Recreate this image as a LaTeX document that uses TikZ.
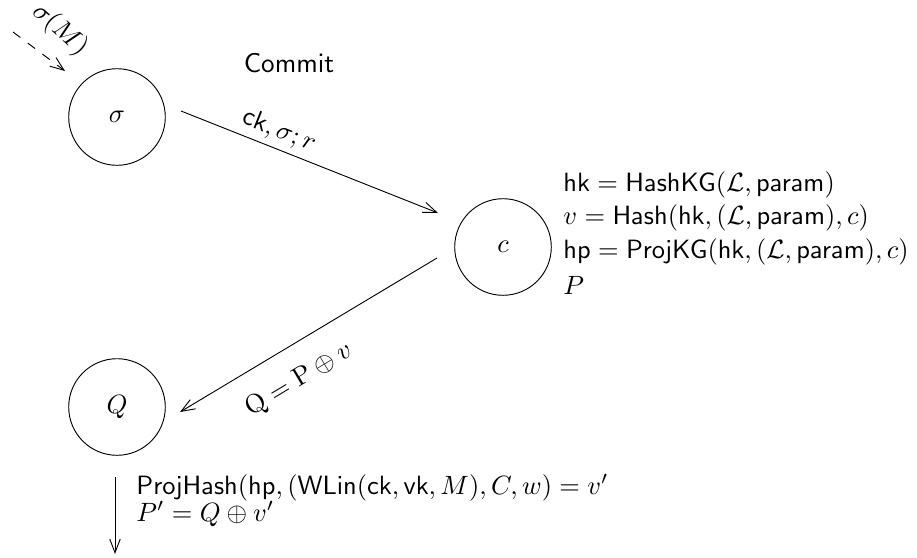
\documentclass[tikz,border=0pt]{standalone}
\usepackage{amsmath}
\usepackage{graphicx}
\usetikzlibrary{arrows.meta}
\newcommand{\bigtx}[1]{\scalebox{1.15}{#1}}
\begin{document}
\begin{tikzpicture}[x=0.4348pt,y=-0.4348pt,
  state/.style={draw,circle,minimum size=42pt,inner sep=0pt},
  flow/.style={-{Straight Barb[length=6pt,width=4.6pt]}},
  info/.style={anchor=west,inner sep=0pt}]
\useasboundingbox (0,0) rectangle (917,557);
\node[state] (s) at (117,117) {\bigtx{$\sigma$}};
\node[state] (c) at (503,247) {\bigtx{$c$}};
\node[state] (q) at (117,407) {\bigtx{$Q$}};
\coordinate (m0) at (13,32);
\coordinate (m1) at (65,71);
\draw[flow,dash pattern=on 4pt off 4pt] (m0) -- (m1);
\node[rotate=-42,inner sep=0pt] (ml) at (60,30) {\bigtx{$\sigma(M)$}};
\node (commit) at (289,63) {\scalebox{1.18}{$\mathsf{Commit}$}};
\coordinate (a0) at (181,111);
\coordinate (a1) at (438,213);
\draw[flow] (a0) -- (a1);
\node[rotate=-21.6] (l1) at (279,131) {\bigtx{$\mathsf{ck},\sigma;r$}};
\coordinate (b0) at (437,258);
\coordinate (b1) at (180,412);
\draw[flow] (b0) -- (b1);
\node[rotate=30.9] (l2) at (299,380) {\bigtx{$\mathrm{Q}=\mathrm{P}\oplus v$}};
\node[info] (t1) at (563,185) {\bigtx{$\mathsf{hk}=\mathsf{HashKG}(\mathcal{L},\mathsf{param})$}};
\node[info] (t2) at (563,218) {\bigtx{$v=\mathsf{Hash}(\mathsf{hk},(\mathcal{L},\mathsf{param}),c)$}};
\node[info] (t3) at (563,252) {\bigtx{$\mathsf{hp}=\mathsf{ProjKG}(\mathsf{hk},(\mathcal{L},\mathsf{param}),c)$}};
\node[info] (t4) at (563,285) {\bigtx{$P$}};
\coordinate (d0) at (115,477);
\coordinate (d1) at (115,554);
\draw[flow] (d0) -- (d1);
\node[info,anchor=north west] (u) at (136,474)
  {\bigtx{\def\arraystretch{0.725}\begin{tabular}{@{}l@{}}
   $\mathsf{ProjHash}(\mathsf{hp},(\mathsf{WLin}(\mathsf{ck},\mathsf{vk},M),C,w)=v'$\\
   $P'=Q\oplus v'$\end{tabular}}};
\end{tikzpicture}
\end{document}
